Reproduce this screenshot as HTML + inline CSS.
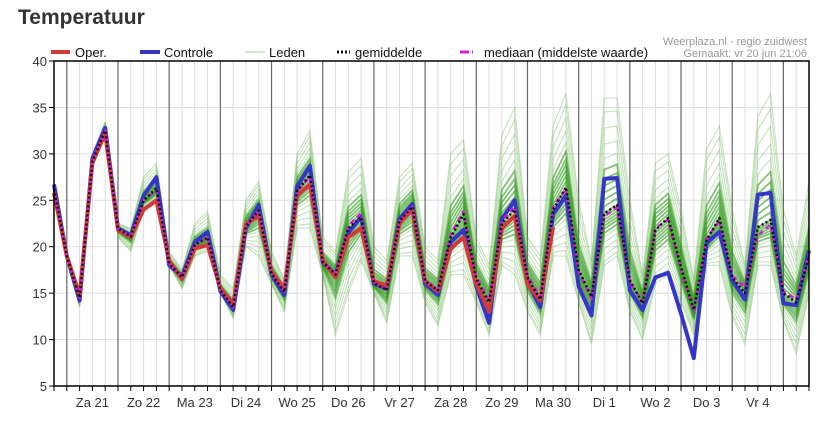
<!DOCTYPE html>
<html><head><meta charset="utf-8">
<style>
body{margin:0;background:#fff;width:839px;height:427px;overflow:hidden;font-family:"Liberation Sans",sans-serif}
#title{position:absolute;left:18px;top:6px;font-size:21px;font-weight:bold;color:#333}
</style></head><body>
<div id="title">Temperatuur</div>
<svg id="c" width="839" height="427" style="position:absolute;left:0;top:0"></svg>
<script>
const dayLabels=["Za 21","Zo 22","Ma 23","Di 24","Wo 25","Do 26","Vr 27","Za 28","Zo 29","Ma 30","Di 1","Wo 2","Do 3","Vr 4"];
const yTicks=[5,10,15,20,25,30,35,40];
const oper=[25.8,19,14.8,29,32.2,21.8,21,24,25,18.5,16.5,19.8,20.2,15.5,13.8,22.5,23.3,17.3,15.5,25.5,26.7,18.5,16.7,21,22,16.3,15.8,22.5,24,16.3,15.2,19.8,21,16,13,22,23.3,16,14.2,22.1];
const controle=[26.7,19,14.2,29.5,32.8,22,21.2,25.5,27.5,18,16.8,20.5,21.6,15.2,13.2,22,24.5,17,14.8,26.5,28.7,18.3,17,21.5,23.2,16,15.5,23,24.6,16,14.8,20.5,21.8,15.7,11.8,23,25,16.2,13.5,23.5,25.5,15.7,12.6,27.3,27.4,15.3,13.2,16.7,17.2,12.8,8,20.4,21.6,16.4,14.3,25.6,25.8,13.9,13.7,19.6];
const gemiddelde=[26.2,19,14.5,29.2,32.5,21.9,21.1,25,26.3,18.2,16.7,20.2,21,15.3,13.5,22.2,23.9,17.1,15.1,26,27.7,18.4,17,22,23.2,16.1,15.3,22.8,24.3,16.3,15.3,21,23.5,16.5,14,22.5,24,16.7,14.3,24,26.4,17.5,14.6,23.6,24.5,16.4,13.9,21.8,23.1,17.8,13.2,20.7,23.1,16.7,15,22.1,22.9,15,14,19];
const mediaan=[26.2,19,14.5,29.2,32.5,21.9,21.1,25,26.1,18.2,16.7,20.2,21,15.3,13.5,22.2,23.9,17.1,15.1,26,27.5,18.4,17.2,22.3,23.6,16.1,15.3,22.8,24.3,16.3,15.5,21.3,23.8,16.8,14.2,22.8,24.3,16.9,14.6,24.3,26.2,17.3,14.4,23.3,24.2,16.2,14.1,22,22.9,17.5,13,20.9,22.8,16.9,15.6,21.2,22.4,15.2,14.3,19.2];
const memberLow=[25.5,18.5,13.5,29,32,21,19.5,24,24.5,18,15.5,19,19.5,15,12.3,20,19,16,13,22,22,17,10.5,15,18.5,15,11.8,19,19,14,11.5,17,17,14,10.5,18,17,13,10.5,19,19,14,9.5,18,19,13,10,16,17,14,10.5,18,18,12.5,9.5,18,18,12,8.5,15];
const memberHigh=[27,19.5,15,30,33.5,22.5,22,27.5,29,19.5,17.5,22.5,23.8,17,15.5,25,27,19.5,16.5,30,32.5,21,19.5,28,29.5,20,18.5,27.5,29,20,18.5,30,31.5,21,18,32,35,21,19,33,36.5,25,18.5,36,36,25,17,29,30,24,16.5,30.5,33,24,18,34,36.5,24,19,27];
const NS="http://www.w3.org/2000/svg";
const svg=document.getElementById('c');
const L=54,R=809,T=61,B=386;
const N=memberLow.length;
function xs(i){return L+i*(R-L)/(N-1);}
function ys(v){return B-(v-5)*(B-T)/35;}
function mk(tag,attrs,parent){const e=document.createElementNS(NS,tag);for(const k in attrs)e.setAttribute(k,attrs[k]);(parent||svg).appendChild(e);return e;}
const grid=mk('g',{});


for(const t of yTicks){
  mk('line',{x1:L,x2:R,y1:ys(t),y2:ys(t),stroke:'#ddd','stroke-width':1},grid);
  const tx=mk('text',{x:47,y:ys(t)+5,'text-anchor':'end','font-size':13,fill:'#333'});
  tx.textContent=t;
  
  
  mk('line',{x1:L-5,x2:L,y1:ys(t),y2:ys(t),stroke:'#000'});
}
for(let i=0;i<N;i++){
  const midnight=(i%4)===1;
  mk('line',{x1:xs(i),x2:xs(i),y1:T,y2:B,stroke:midnight?'#666':'#ddd','stroke-width':midnight?1.2:1},grid);
  mk('line',{x1:xs(i),x2:xs(i),y1:B,y2:B+5,stroke:'#000'});
}
dayLabels.forEach((d,k)=>{
  const tx=mk('text',{x:xs(3+4*k),y:407,'text-anchor':'middle','font-size':13,fill:'#333'});
  tx.textContent=d;
  
  
});
function pts(arr){return arr.map((v,i)=>xs(i).toFixed(1)+','+ys(v).toFixed(1)).join(' ');}
const mem=mk('g',{});


const fr=[0,0.04,0.1,0.16,0.22,0.27,0.31,0.35,0.38,0.41,0.44,0.47,0.5,0.53,0.56,0.59,0.62,0.65,0.69,0.74,0.8,0.87,0.94,1];
fr.forEach((f,j)=>{
  const arr=memberLow.map((lo,i)=>{
    const mid=gemiddelde[i];
    return f<0.5? lo+(mid-lo)*(f/0.5) : mid+(memberHigh[i]-mid)*((f-0.5)/0.5);
  });
  const central=Math.abs(f-0.5)<0.2;
  const pl=mk('polyline',{points:pts(arr),fill:'none',stroke:central?'#2f9a1a':'#58b040','stroke-opacity':central?0.6:0.35,'stroke-width':central?1.8:1.1},mem);
  
  
});
function series(arr,color,w,name,dash){
  const p=mk('polyline',{points:pts(arr),fill:'none',stroke:color,'stroke-width':w,'stroke-linejoin':'round'});
  if(dash)p.setAttribute('stroke-dasharray',dash);
  
  
}
series(controle,'#3535c8',4,'controle-line');
series(oper,'#d03a3a',4,'oper-line');
series(mediaan,'#d020d0',2.5,'mediaan-line','5,4');
series(gemiddelde,'#111',2.5,'gemiddelde-line','2,2.5');
mk('rect',{x:L,y:T,width:R-L,height:B-T,fill:'none',stroke:'#000','stroke-width':1.5});
const lg=mk('g',{});


function le(x1,x2,color,w,label,tx,dash,name){
  const g=mk('g',{},lg);
  
  
  const l=mk('line',{x1:x1,x2:x2,y1:52,y2:52,stroke:color,'stroke-width':w},g);
  if(dash)l.setAttribute('stroke-dasharray',dash);
  const t=mk('text',{x:tx,y:57,'font-size':13,fill:'#111'},g);t.textContent=label;
}
le(51,70,'#d03a3a',4,'Oper.',75,null,'legend-oper');
le(140,160,'#3535c8',4,'Controle',164,null,'legend-controle');
le(245,265,'#9fcf93',1,'Leden',269,null,'legend-leden');
le(337,350,'#111',3,'gemiddelde',355,'2,2','legend-gemiddelde');
le(460,475,'#d020d0',3,'mediaan (middelste waarde)',484,'9,3,1,3','legend-mediaan');
const s1=mk('text',{x:807,y:45,'text-anchor':'end','font-size':11,fill:'#999'});s1.textContent='Weerplaza.nl - regio zuidwest';


const s2=mk('text',{x:807,y:57,'text-anchor':'end','font-size':11,fill:'#999'});s2.textContent='Gemaakt: vr 20 jun 21:06';


</script>
</body></html>
